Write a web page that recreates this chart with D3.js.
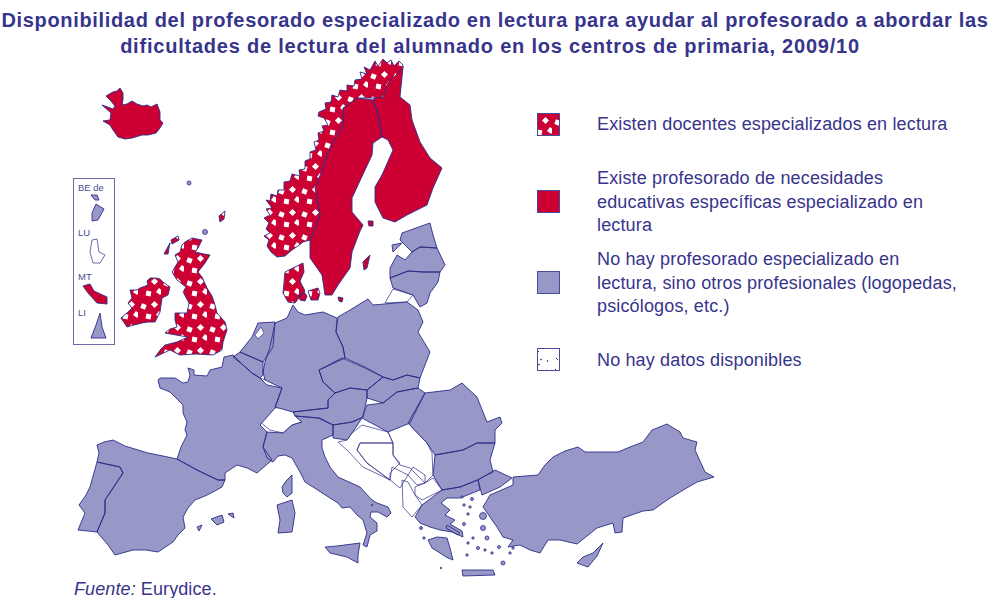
<!DOCTYPE html>
<html>
<head>
<meta charset="utf-8">
<script src="https://cdn.jsdelivr.net/npm/d3@7"></script>
<style>
html, body { margin: 0; padding: 0; background: #fff; overflow: hidden; }
text { font-family: "Liberation Sans", Arial, sans-serif; }
</style>
</head>
<body>
<div id="chart"></div>
<script>
const titleLines = [
    'Disponibilidad del profesorado especializado en lectura para ayudar al profesorado a abordar las',
    'dificultades de lectura del alumnado en los centros de primaria, 2009/10'
];
const legendLabels = [
    ['Existen docentes especializados en lectura'],
    ['Existe profesorado de necesidades', 'educativas específicas especializado en', 'lectura'],
    ['No hay profesorado especializado en', 'lectura, sino otros profesionales (logopedas,', 'psicólogos, etc.)'],
    ['No hay datos disponibles']
];
const legendKeys = ['dots', 'red', 'blue', 'none'];
const insetLabels = ['BE de', 'LU', 'MT', 'LI'];

const dotsRings = [
    // Noruega
    [[403,65],[399,61],[394,66],[391,60],[387,63],[383,59],[378,66],[375,61],[370,70],[364,67],[367,74],[360,72],[362,79],[355,80],[354,86],[347,85],[347,91],[340,90],[338,97],[332,95],[331,102],[325,103],[326,109],[319,112],[318,116],[324,118],[328,125],[322,126],[324,131],[318,133],[319,140],[314,142],[316,150],[310,152],[310,159],[305,161],[305,169],[299,170],[300,176],[292,174],[290,181],[284,182],[284,190],[278,190],[277,196],[271,194],[270,201],[266,200],[272,208],[266,209],[270,215],[264,218],[269,223],[266,229],[270,233],[264,236],[269,240],[267,246],[271,252],[277,257],[285,256],[292,250],[298,246],[303,242],[310,240],[315,228],[320,215],[315,188],[323,168],[328,152],[343,125],[343,108],[357,98],[373,98],[383,97],[388,83],[403,68]],
    // Dinamarca
    [[285,272],[293,268],[303,263],[304,272],[300,281],[305,291],[298,299],[295,303],[288,302],[283,293],[284,282]],
    [[299,295],[304,292],[307,296],[305,301],[300,300]],
    [[308,291],[318,288],[320,293],[318,300],[311,300]],
    // Irlanda
    [[121,318],[128,312],[132,308],[128,303],[132,298],[130,290],[137,290],[140,288],[148,285],[147,281],[150,278],[156,278],[160,279],[163,282],[170,287],[168,295],[162,298],[161,305],[160,312],[155,322],[148,322],[142,323],[134,325],[127,327]],
    // Reino Unido
    [[185,242],[192,238],[202,240],[198,248],[195,252],[204,254],[210,255],[205,263],[198,272],[202,277],[207,288],[212,296],[215,305],[217,313],[225,322],[227,330],[223,342],[222,350],[213,355],[196,354],[180,355],[170,350],[155,357],[161,349],[165,345],[177,342],[188,337],[176,335],[165,333],[170,329],[177,327],[175,320],[175,313],[187,313],[189,303],[183,292],[186,287],[177,280],[172,272],[178,262],[175,255],[180,252],[182,245]],
    [[171,240],[178,236],[179,240],[172,244]],
    [[164,254],[170,243],[168,254]],
    [[219,216],[225,211],[224,219],[220,222]]
];
const redRings = [
    // Islandia
    [[102,105],[113,109],[115,106],[110,100],[106,96],[113,92],[117,91],[120,88],[123,93],[123,100],[122,105],[127,104],[132,101],[137,104],[143,106],[147,105],[151,107],[157,104],[160,112],[160,120],[163,123],[160,128],[156,133],[148,135],[142,135],[132,138],[125,139],[118,137],[113,130],[110,125],[103,121],[110,120],[111,113]],
    // Suecia
    [[357,98],[373,100],[378,115],[382,137],[373,143],[372,155],[358,185],[352,198],[352,212],[363,225],[360,231],[352,252],[350,268],[338,285],[332,295],[325,295],[322,275],[310,258],[310,240],[315,228],[320,215],[315,188],[323,168],[328,152],[343,125],[343,108]],
    // Finlandia
    [[373,100],[388,83],[403,67],[400,97],[410,105],[412,120],[420,142],[430,158],[442,168],[433,188],[427,205],[407,215],[395,222],[383,218],[375,202],[375,187],[382,175],[393,150],[388,140],[382,137],[378,115]],
    // Gotland, Aland, Bornholm
    [[363,262],[370,255],[367,268],[364,270]],
    [[368,221],[373,221],[373,226],[369,226]],
    [[338,297],[343,298],[342,302],[339,301]]
];
const blueRings = [
    // Estonia, Letonia, Lituania
    [[402,233],[430,223],[433,235],[437,248],[420,247],[412,252],[400,240]],
    [[392,245],[402,243],[393,252]],
    [[390,268],[397,255],[405,260],[412,252],[420,247],[437,248],[445,265],[440,272],[423,272],[408,271],[390,278]],
    [[390,278],[408,271],[423,272],[440,272],[438,282],[430,293],[427,303],[420,307],[413,295],[393,288]],
    // Polonia
    [[338,317],[350,310],[368,299],[373,305],[407,302],[418,310],[423,322],[418,332],[430,352],[420,378],[407,375],[393,380],[383,377],[365,367],[345,358],[343,347],[336,332]],
    // Alemania
    [[287,318],[293,305],[298,312],[305,315],[323,312],[337,318],[336,332],[343,347],[345,358],[319,370],[323,382],[335,393],[328,400],[328,408],[310,410],[293,412],[275,407],[282,388],[265,380],[263,372],[265,362],[270,347],[275,323]],
    // Países Bajos, Bélgica
    [[240,352],[252,337],[258,323],[275,322],[273,347],[263,362]],
    [[233,357],[240,352],[263,362],[263,375],[260,378],[252,373],[243,365]],
    // Francia
    [[158,380],[160,378],[175,378],[183,383],[188,382],[190,375],[188,368],[194,370],[194,375],[207,376],[210,370],[222,367],[224,357],[233,355],[243,365],[252,373],[260,378],[267,385],[282,388],[275,408],[260,425],[267,432],[263,447],[272,460],[257,473],[247,468],[237,465],[225,473],[225,480],[218,480],[197,470],[177,459],[181,447],[187,435],[185,430],[187,422],[183,413],[183,405],[170,392],[160,388]],
    // España, Portugal
    [[97,445],[104,442],[113,440],[125,446],[148,453],[163,456],[177,459],[197,470],[218,480],[225,480],[222,487],[213,492],[205,496],[195,500],[188,508],[183,517],[185,528],[178,535],[173,542],[158,552],[146,550],[133,550],[115,555],[108,545],[97,532],[105,513],[105,500],[123,473],[120,467],[97,462],[99,453]],
    [[97,462],[120,467],[123,473],[105,500],[105,513],[97,532],[78,530],[85,513],[79,505],[86,495],[90,487]],
    [[211,519],[222,515],[224,522],[217,525]],
    [[228,514],[233,513],[234,518]],
    [[197,527],[202,525],[199,531]],
    // Italia, Córcega, Cerdeña, Sicilia
    [[267,432],[283,433],[292,425],[302,422],[295,416],[320,418],[333,425],[333,435],[322,440],[322,448],[325,457],[330,467],[338,477],[360,487],[372,500],[377,503],[388,507],[391,513],[387,517],[378,512],[371,512],[370,517],[377,523],[377,531],[370,535],[367,547],[363,545],[367,533],[363,520],[357,515],[350,507],[342,508],[338,503],[330,498],[313,487],[305,482],[300,472],[292,458],[285,455],[278,456],[273,462],[267,458],[263,447]],
    [[282,487],[286,481],[292,475],[292,493],[287,497],[283,493]],
    [[277,505],[292,500],[295,513],[292,532],[278,533],[280,520]],
    [[325,547],[337,546],[360,543],[358,555],[358,563],[347,557],[330,553]],
    // Chequia, Eslovaquia, Austria, Hungría, Eslovenia
    [[319,370],[342,358],[365,368],[383,377],[367,390],[350,388],[335,393],[323,382]],
    [[383,377],[393,380],[407,375],[420,378],[418,388],[397,392],[383,403],[367,398],[367,390]],
    [[335,393],[350,388],[367,390],[367,398],[363,417],[352,422],[333,425],[318,418],[295,416],[293,412],[310,410],[328,408],[328,400]],
    [[367,405],[383,403],[397,392],[418,388],[425,393],[410,423],[388,432],[362,418]],
    [[333,425],[352,422],[362,418],[352,433],[347,440],[333,438]],
    // Rumanía, Bulgaria
    [[425,393],[450,390],[462,383],[477,397],[487,422],[500,417],[502,423],[495,430],[495,443],[477,443],[463,450],[435,455],[427,443],[408,423]],
    [[435,455],[463,450],[477,443],[495,443],[490,460],[493,472],[477,480],[460,487],[442,490],[433,475]],
    // Turquía
    [[478,480],[495,470],[512,478],[500,487],[482,495]],
    [[513,477],[538,475],[545,465],[553,457],[565,451],[578,447],[585,452],[593,452],[605,452],[618,452],[630,447],[643,442],[652,430],[667,424],[680,432],[683,438],[697,442],[695,450],[705,472],[714,477],[697,482],[685,489],[670,498],[653,510],[643,511],[623,518],[622,532],[615,533],[613,523],[597,528],[577,544],[560,540],[548,540],[540,553],[530,550],[520,545],[508,547],[513,540],[503,537],[497,527],[492,520],[488,514],[483,507],[490,495],[513,485]],
    // Chipre
    [[577,563],[583,557],[593,553],[603,543],[597,556],[588,567]],
    // Grecia
    [[415,517],[422,505],[442,490],[460,487],[478,480],[480,490],[460,498],[447,498],[441,503],[450,510],[445,515],[455,520],[450,524],[462,531],[463,537],[452,532],[440,530],[430,527],[420,523]],
    [[428,540],[437,537],[447,538],[450,548],[453,560],[446,557],[440,553],[432,548]],
    [[447,525],[460,533],[458,535],[446,528]],
    [[462,570],[493,570],[495,575],[463,576]]
];
const noneRings = [
    // Suiza
    [[260,422],[273,408],[293,407],[295,416],[302,422],[292,425],[283,433],[270,430]],
    // Luxemburgo
    [[260,370],[265,371],[265,380],[260,378]],
    // Kaliningrado
    [[385,303],[393,289],[413,295],[407,302]],
    // Balcanes occidentales
    [[352,433],[362,425],[388,432],[393,443],[360,443],[357,450],[367,463],[390,480],[363,467],[347,450],[338,442],[347,440]],
    [[360,443],[393,443],[393,455],[400,463],[390,473],[390,480],[367,463],[357,450]],
    [[388,432],[400,425],[408,423],[427,443],[432,453],[433,475],[425,483],[410,468],[400,465],[393,455],[393,443]],
    [[390,480],[392,467],[408,475],[400,488]],
    [[408,475],[413,467],[425,475],[425,483],[417,485]],
    [[415,487],[425,483],[433,478],[442,490],[422,500],[415,495]],
    [[402,480],[408,482],[415,495],[422,505],[412,517],[403,507]]
];
const lakeRings = [
    // IJsselmeer
    [[255,335],[261,327],[264,333],[258,339]]
];
const islands = [
    [462,497,1.2],[472,499,1.5],[464,505,1.2],[470,507,1.2],[483,516,3.5],[468,514,1.2],[483,528,2.5],[464,524,1.5],
    [487,538,2],[473,538,1.2],[478,548,1.5],[468,543,1.2],[467,555,1.2],[485,550,1.2],[492,553,1.2],[499,547,1.5],
    [503,563,2],[510,553,1.2],[513,548,1.2],[421,528,1.5],[424,538,1.2],[441,568,0.8],[189,183,2],[205,232,2.5],[372,505,0.8]
];
const insetShapes = [
    {key: 'blue', rings: [[[91,195],[97,195],[99,200],[95,200]], [[96,204],[104,209],[98,220],[92,221],[92,213]]]},
    {key: 'none', rings: [[[90,252],[92,240],[97,239],[99,252],[105,255],[100,263],[93,263]]]},
    {key: 'red', rings: [[[83,286],[90,284],[94,291],[107,297],[107,304],[97,303],[88,293]]]},
    {key: 'blue', rings: [[[100,313],[102,327],[106,338],[91,338],[96,325]]]}
];
const patternDots = [[3,5,20],[14,3,45],[8,15,10],[19,13,35]];
const noDataMarks = [[2,3,4,1],[10,6,8,8],[16,3,18,2],[4,13,6,15],[13,14,11,15],[18,17,19,15],[9,19,11,20]];

const width = 996;
const height = 598;
const textColor = '#37348c';
const lineColor = '#2c2c86';
const fills = {dots: 'url(#dots)', red: '#cc0033', blue: '#9797c8', none: '#fff'};

const svg = d3.select('#chart').append('svg')
    .attr('width', width)
    .attr('height', height)
    .style('display', 'block');

// tramas de la leyenda y del mapa
const defs = svg.append('defs');
const dots = defs.append('pattern').attr('id', 'dots')
    .attr('patternUnits', 'userSpaceOnUse').attr('width', 23).attr('height', 23);
dots.append('rect').attr('width', 23).attr('height', 23).attr('fill', fills.red);
dots.selectAll('rect.dot').data(patternDots).enter().append('rect')
    .attr('class', 'dot')
    .attr('x', d => d[0]).attr('y', d => d[1])
    .attr('width', 5).attr('height', 5)
    .attr('fill', '#fff')
    .attr('transform', d => `rotate(${d[2]} ${d[0] + 2.5} ${d[1] + 2.5})`);
const noData = defs.append('pattern').attr('id', 'nodata')
    .attr('patternUnits', 'userSpaceOnUse').attr('width', 23).attr('height', 23);
noData.append('rect').attr('width', 23).attr('height', 23).attr('fill', '#fff');
noData.selectAll('line').data(noDataMarks).enter().append('line')
    .attr('x1', d => d[0]).attr('y1', d => d[1]).attr('x2', d => d[2]).attr('y2', d => d[3])
    .attr('stroke', lineColor).attr('stroke-width', 1);

const path = d3.geoPath(d3.geoIdentity());
const toFeature = (rings, key) => ({
    type: 'Feature',
    key: key,
    geometry: {type: 'MultiPolygon', coordinates: rings.map(r => [r.concat([r[0]])])}
});

const features = [
    toFeature(noneRings, 'none'),
    toFeature(blueRings, 'blue'),
    toFeature(lakeRings, 'none'),
    toFeature(redRings, 'red'),
    toFeature(dotsRings, 'dots')
].concat(insetShapes.map(d => toFeature(d.rings, d.key)));

svg.append('g').selectAll('path')
    .data(features)
    .enter()
    .append('path')
    .attr('d', path)
    .attr('fill', d => fills[d.key])
    .attr('stroke', lineColor)
    .attr('stroke-width', d => d.key === 'none' ? 0.7 : 0.9)
    .attr('stroke-linejoin', 'round');

svg.append('g').selectAll('path')
    .data(islands)
    .enter()
    .append('path')
    .attr('d', d => path.pointRadius(d[2])({type: 'Point', coordinates: [d[0], d[1]]}))
    .attr('fill', fills.blue)
    .attr('stroke', lineColor)
    .attr('stroke-width', 0.8);

// recuadro de países pequeños
svg.append('rect')
    .attr('x', 73.5).attr('y', 178.5)
    .attr('width', 41).attr('height', 166)
    .attr('fill', 'none')
    .attr('stroke', '#6a6aa8')
    .attr('stroke-width', 1);
const insetY = d3.scaleOrdinal().domain(insetLabels).range([191, 236, 280, 316]);
svg.append('g').selectAll('text')
    .data(insetLabels)
    .enter()
    .append('text')
    .attr('x', 78)
    .attr('y', d => insetY(d))
    .attr('font-size', 9.5)
    .attr('fill', '#4a4a94')
    .text(d => d);

// título
svg.append('g').selectAll('text')
    .data(titleLines)
    .enter()
    .append('text')
    .attr('x', (d, i) => i ? 490 : 495)
    .attr('y', (d, i) => 27 + i * 25.5)
    .attr('text-anchor', 'middle')
    .attr('font-size', 20)
    .attr('letter-spacing', (d, i) => i ? 0.78 : 0.66)
    .attr('font-weight', 'bold')
    .attr('fill', textColor)
    .text(d => d);

// leyenda
const swatchY = d3.scaleOrdinal().domain(legendKeys).range([113, 190, 271, 348]);
const labelY = d3.scaleOrdinal().domain(legendKeys).range([130, 184, 265, 366]);
const legend = svg.append('g').selectAll('g')
    .data(legendKeys)
    .enter()
    .append('g');
legend.append('rect')
    .attr('x', 537.5)
    .attr('y', d => swatchY(d) + 0.5)
    .attr('width', 22)
    .attr('height', 22)
    .attr('fill', d => d === 'none' ? 'url(#nodata)' : fills[d])
    .attr('stroke', '#4a4a9a')
    .attr('stroke-width', 1);
legend.each(function (d, i) {
    d3.select(this).selectAll('text')
        .data(legendLabels[i])
        .enter()
        .append('text')
        .attr('x', 597)
        .attr('y', (t, j) => labelY(d) + j * 23.5)
        .attr('font-size', 18)
        .attr('letter-spacing', 0.15)
        .attr('fill', textColor)
        .text(t => t);
});

// fuente
const source = svg.append('text')
    .attr('x', 74)
    .attr('y', 595)
    .attr('font-size', 18)
    .attr('letter-spacing', 0.1)
    .attr('fill', textColor);
source.append('tspan').attr('font-style', 'italic').text('Fuente:');
source.append('tspan').text(' Eurydice.');
</script>
</body>
</html>
